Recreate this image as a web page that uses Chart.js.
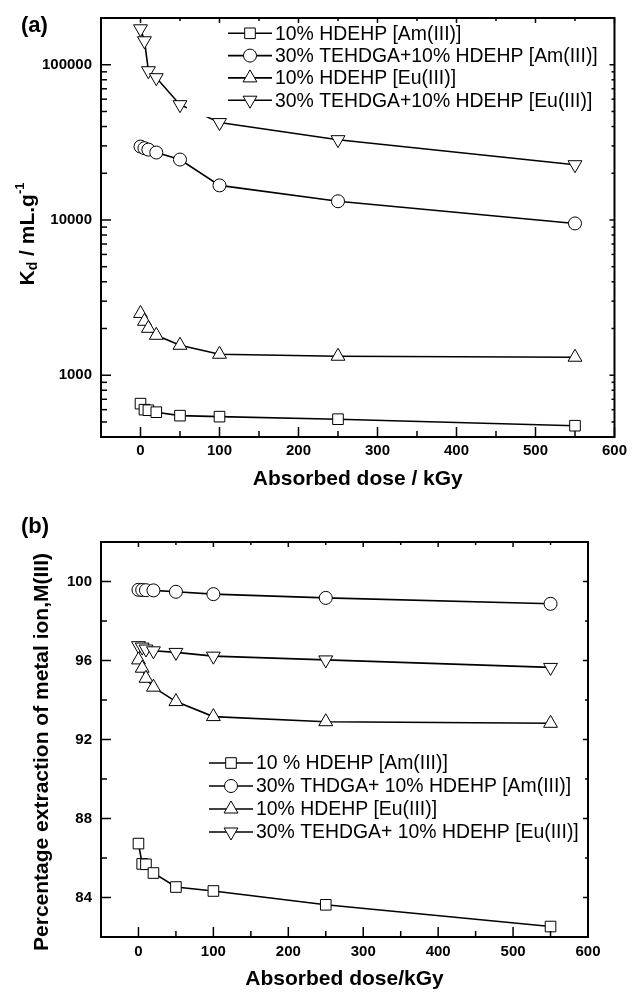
<!DOCTYPE html>
<html>
<head>
<meta charset="utf-8">
<title>Kd and extraction vs absorbed dose</title>
<script src="https://cdn.jsdelivr.net/npm/chart.js"></script>
<style>
  html, body { margin: 0; padding: 0; background: #fff; }
  #wrap { position: relative; width: 632px; height: 992px; }
  canvas { position: absolute; left: 0; }
  #chartA { top: 0; }
  #chartB { top: 496px; }
</style>
</head>
<body>
<div id="wrap">
  <canvas id="chartA" width="632" height="496"></canvas>
  <canvas id="chartB" width="632" height="496"></canvas>
</div>
<script>
const doses = [0, 5, 10, 20, 50, 100, 250, 550];

// (a) Kd, mL/g
const kdAmHdehp = [656, 600, 595, 578, 549, 541, 521, 473];
const kdAmTehdga = [29700, 29000, 28400, 27200, 24500, 16700, 13200, 9500];
const kdEuHdehp = [2500, 2225, 2006, 1808, 1559, 1365, 1325, 1306];
const kdEuTehdga = [170400, 142700, 91500, 82500, 55300, 42400, 32900, 22700];

// (b) % extraction
const extAmHdehp = [86.73, 85.70, 85.68, 85.24, 84.53, 84.33, 83.63, 82.53];
const extAmTehdga = [99.58, 99.57, 99.56, 99.55, 99.48, 99.36, 99.17, 98.87];
const extEuHdehp = [96.03, 95.61, 95.10, 94.65, 93.92, 93.16, 92.90, 92.82];
const extEuTehdga = [96.75, 96.68, 96.58, 96.49, 96.41, 96.22, 96.03, 95.65];

const legendA = ["10% HDEHP [Am(III)]", "30% TEHDGA+10% HDEHP [Am(III)]", "10% HDEHP [Eu(III)]", "30% TEHDGA+10% HDEHP [Eu(III)]"];
const legendB = ["10 % HDEHP [Am(III)]", "30% THDGA+ 10% HDEHP [Am(III)]", "10% HDEHP [Eu(III)]", "30% TEHDGA+ 10% HDEHP [Eu(III)]"];

const doseTicks = [0, 100, 200, 300, 400, 500, 600];
const doseMinor = [50, 150, 250, 350, 450, 550];
const kdTicks = [1000, 10000, 100000];
const kdMinor = [400, 500, 600, 700, 800, 900, 2000, 3000, 4000, 5000, 6000, 7000, 8000, 9000,
                 20000, 30000, 40000, 50000, 60000, 70000, 80000, 90000];
const extTicks = [84, 88, 92, 96, 100];
const extMinor = [82, 86, 90, 94, 98, 102];

const FONT = '"Liberation Sans", Arial, Helvetica, sans-serif';
const tickFont = { family: FONT, size: 15, weight: 'bold' };
const titleFont = { family: FONT, size: 21, weight: 'bold' };

const markers = [
  { pointStyle: 'rect', radius: 7.5, rotation: 0 },
  { pointStyle: 'circle', radius: 6.5, rotation: 0 },
  { pointStyle: 'triangle', radius: 8, rotation: 0 },
  { pointStyle: 'triangle', radius: 8, rotation: 180 }
];

function makeSets(series) {
  return series.map((vals, i) => ({
    data: vals.map((v, j) => ({ x: doses[j], y: v })),
    borderColor: '#000',
    borderWidth: 1.6,
    tension: 0,
    fill: false,
    pointStyle: markers[i].pointStyle,
    pointRadius: markers[i].radius,
    pointRotation: markers[i].rotation,
    pointBackgroundColor: '#fff',
    pointBorderColor: '#000',
    pointBorderWidth: 1
  }));
}

// box round the plot plus inward ticks on all four sides
function frameTicks(xMajor, xMinor, yMajor, yMinor) {
  return {
    id: 'frameTicks',
    afterDraw(chart) {
      const { ctx, chartArea: a, scales: { x, y } } = chart;
      ctx.save();
      ctx.strokeStyle = '#000';
      ctx.lineWidth = 1.5;
      const seg = (x0, y0, x1, y1) => { ctx.beginPath(); ctx.moveTo(x0, y0); ctx.lineTo(x1, y1); ctx.stroke(); };
      xMajor.forEach(v => { const p = x.getPixelForValue(v); seg(p, a.bottom, p, a.bottom - 10); seg(p, a.top, p, a.top + 5); });
      xMinor.forEach(v => { const p = x.getPixelForValue(v); seg(p, a.bottom, p, a.bottom - 6); seg(p, a.top, p, a.top + 3); });
      yMajor.forEach(v => { const p = y.getPixelForValue(v); seg(a.left, p, a.left + 10, p); seg(a.right, p, a.right - 5, p); });
      yMinor.forEach(v => { const p = y.getPixelForValue(v); seg(a.left, p, a.left + 6, p); seg(a.right, p, a.right - 3, p); });
      ctx.lineWidth = 2;
      ctx.strokeRect(a.left, a.top, a.right - a.left, a.bottom - a.top);
      ctx.restore();
    }
  };
}

function seriesKey(labels, x0, top, step, box) {
  return {
    id: 'seriesKey',
    afterDatasetsDraw(chart) {
      const ctx = chart.ctx;
      ctx.save();
      if (box) {
        ctx.fillStyle = '#fff';
        ctx.fillRect(box[0], box[1], box[2], box[3]);
      }
      ctx.font = '19.4px ' + FONT;
      ctx.textBaseline = 'middle';
      labels.forEach((label, i) => {
        const y = top + i * step;
        ctx.strokeStyle = '#000';
        ctx.lineWidth = 1.6;
        ctx.beginPath();
        ctx.moveTo(x0, y);
        ctx.lineTo(x0 + 44, y);
        ctx.stroke();
        const m = markers[i];
        ctx.fillStyle = '#fff';
        ctx.lineWidth = 1;
        Chart.helpers.drawPoint(ctx, { pointStyle: m.pointStyle, radius: m.radius, rotation: m.rotation, borderWidth: 1 }, x0 + 22, y);
        ctx.fillStyle = '#000';
        ctx.fillText(label, x0 + 47, y + 1);
      });
      ctx.restore();
    }
  };
}

// panel letter and rotated y title made of runs (for sub/superscripts)
function panelText(letter, letterY, runs, cx, cy) {
  return {
    id: 'panelText',
    afterDraw(chart) {
      const ctx = chart.ctx;
      ctx.save();
      ctx.fillStyle = '#000';
      ctx.textBaseline = 'middle';
      ctx.font = 'bold 22px ' + FONT;
      ctx.fillText(letter, 21, letterY);
      let total = 0;
      runs.forEach(r => { ctx.font = r.font; r.w = ctx.measureText(r.text).width; total += r.w; });
      ctx.translate(cx, cy);
      ctx.rotate(-Math.PI / 2);
      let px = -total / 2;
      runs.forEach(r => {
        ctx.font = r.font;
        ctx.fillText(r.text, px, r.dy || 0);
        px += r.w;
      });
      ctx.restore();
    }
  };
}

function doseAxis(height, title, padBottom, labelPad) {
  return {
    type: 'linear',
    min: -50,
    max: 600,
    afterBuildTicks: s => { s.ticks = doseTicks.map(v => ({ value: v })); },
    afterFit: s => { s.height = height; },
    grid: { display: false, drawTicks: false },
    border: { display: false },
    ticks: { font: tickFont, color: '#000', padding: labelPad, maxRotation: 0, autoSkip: false },
    title: { display: true, text: title, font: titleFont, color: '#000', padding: { top: 0, bottom: padBottom } }
  };
}

const bold21 = 'bold 21px ' + FONT;

new Chart(document.getElementById('chartA'), {
  type: 'line',
  data: { datasets: makeSets([kdAmHdehp, kdAmTehdga, kdEuHdehp, kdEuTehdga]) },
  options: {
    responsive: false,
    animation: false,
    events: [],
    devicePixelRatio: 1,
    layout: { padding: { top: 17, right: 15, left: 0, bottom: 0 } },
    plugins: { legend: { display: false }, tooltip: { enabled: false } },
    scales: {
      x: doseAxis(59, 'Absorbed dose / kGy', 4, 5),
      y: {
        type: 'logarithmic',
        min: 400,
        max: 200000,
        afterBuildTicks: s => { s.ticks = kdTicks.map(v => ({ value: v })); },
        afterFit: s => { s.width = 101; },
        grid: { display: false, drawTicks: false },
        border: { display: false },
        ticks: { font: tickFont, color: '#000', padding: 9, callback: v => String(v) }
      }
    }
  },
  plugins: [
    frameTicks(doseTicks, doseMinor, kdTicks, kdMinor),
    seriesKey(legendA, 228, 33.3, 22.3, [187, 18, 425, 99]),
    panelText('(a)', 26, [
      { text: 'K', font: bold21 },
      { text: 'd', font: 'bold 14px ' + FONT, dy: 5 },
      { text: ' / mL.g', font: bold21 },
      { text: '-1', font: 'bold 13px ' + FONT, dy: -8 }
    ], 28, 234)
  ]
});

new Chart(document.getElementById('chartB'), {
  type: 'line',
  data: { datasets: makeSets([extAmHdehp, extAmTehdga, extEuHdehp, extEuTehdga]) },
  options: {
    responsive: false,
    animation: false,
    events: [],
    devicePixelRatio: 1,
    layout: { padding: { top: 46, right: 44, left: 0, bottom: 0 } },
    plugins: { legend: { display: false }, tooltip: { enabled: false } },
    scales: {
      x: doseAxis(55, 'Absorbed dose/kGy', 0, 6),
      y: {
        type: 'linear',
        min: 82,
        max: 102,
        afterBuildTicks: s => { s.ticks = extTicks.map(v => ({ value: v })); },
        afterFit: s => { s.width = 101; },
        grid: { display: false, drawTicks: false },
        border: { display: false },
        ticks: { font: tickFont, color: '#000', padding: 9 }
      }
    }
  },
  plugins: [
    frameTicks(doseTicks, doseMinor, extTicks, extMinor),
    seriesKey(legendB, 209, 267, 23, null),
    panelText('(b)', 31, [
      { text: 'Percentage extraction of metal ion,M(III)', font: bold21 }
    ], 42, 256)
  ]
});
</script>
</body>
</html>
